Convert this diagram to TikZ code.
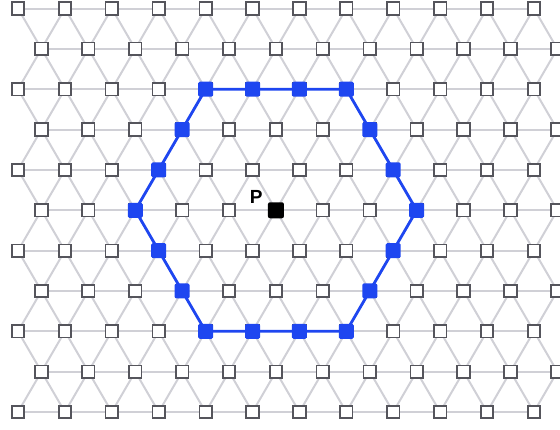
\documentclass[tikz,border=0pt]{standalone}
\usepackage{fontspec}
\setsansfont{Liberation Sans}
\usepackage{tikz}
\usetikzlibrary{positioning}

\definecolor{bondgray}{RGB}{208,208,214}
\definecolor{sitegray}{RGB}{85,85,92}
\definecolor{ringblue}{RGB}{30,70,240}

\begin{document}
\begin{tikzpicture}[x=1pt,y=-1pt,
  bond/.style={bondgray,line width=2pt},
  hexline/.style={ringblue,line width=2.8pt,line join=round},
  site/.style={draw=sitegray,fill=white,line width=1.7pt,minimum size=12.5pt,inner sep=0pt},
  ringsite/.style={fill=ringblue,rounded corners=1.5pt,minimum size=15pt,inner sep=0pt},
  centresite/.style={fill=black,rounded corners=2pt,minimum size=16pt,inner sep=0pt},
  plab/.style={font=\sffamily\bfseries\fontsize{19}{19}\selectfont,inner sep=0pt}]
\useasboundingbox (0,0) rectangle (560,429);

% lattice points
\foreach \r in {0,...,10}{
  \foreach \k in {0,...,11}{
    \pgfmathsetmacro{\px}{18+46.9*\k+23.45*mod(\r,2)}
    \coordinate (n-\r-\k) at (\px,8.5+40.35*\r);
  }
}

% bonds
\foreach \r in {0,...,10}{
  \foreach \k [evaluate=\k as \kk using int(\k+1)] in {0,...,10}
    \draw[bond] (n-\r-\k) -- (n-\r-\kk);
}
\foreach \r [evaluate=\r as \rr using int(\r+1)] in {0,...,9}{
  \foreach \k [evaluate=\k as \km using int(\k-1), evaluate=\k as \kp using int(\k+1)] in {0,...,11}{
    \draw[bond] (n-\r-\k) -- (n-\rr-\k);
    \ifodd\r\relax
      \ifnum\k<11 \draw[bond] (n-\r-\k) -- (n-\rr-\kp);\fi
    \else
      \ifnum\k>0 \draw[bond] (n-\r-\k) -- (n-\rr-\km);\fi
    \fi
  }
}

% hexagon
\draw[hexline] (n-2-4) -- (n-2-7) -- (n-5-8) -- (n-8-7) -- (n-8-4) -- (n-5-2) -- cycle;

% sites
\foreach \r in {0,...,10}{
  \foreach \k in {0,...,11}
    \node[site] (s-\r-\k) at (n-\r-\k) {};
}

% ring sites
\foreach \r/\k in {2/4,2/5,2/6,2/7,3/3,3/7,4/3,4/8,5/2,5/8,6/3,6/8,7/3,7/7,8/4,8/5,8/6,8/7}
  \node[ringsite] (h-\r-\k) at (n-\r-\k) {};

\node[centresite] (p) at (n-5-5) {};
\node[plab, above left=-2pt and 5pt of p] (plabel) {P};
\end{tikzpicture}
\end{document}
